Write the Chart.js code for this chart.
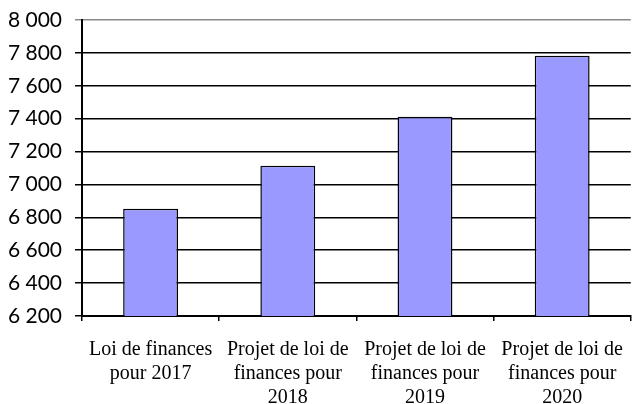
<!DOCTYPE html>
<html>
<head>
<meta charset="utf-8">
<script src="https://cdn.jsdelivr.net/npm/chart.js@4"></script>
<style>
  html, body { margin: 0; padding: 0; overflow: hidden; background: #fff; }
  #wrap { width: 640px; height: 404px; }
</style>
</head>
<body>
<div id="wrap"><canvas id="chart" width="640" height="404"></canvas></div>
<script>
// Budget evolution - vertical bar chart
const categories = [
    ['Loi de finances', 'pour 2017'],
    ['Projet de loi de', 'finances pour', '2018'],
    ['Projet de loi de', 'finances pour', '2019'],
    ['Projet de loi de', 'finances pour', '2020']
];
const values = [6852, 7114, 7411, 7783];
const yMin = 6200;
const yMax = 8000;
const yStep = 200;

function spaced(v) {
    return String(v).replace(/\B(?=(\d{3})+(?!\d))/g, ' ');
}

new Chart(document.getElementById('chart'), {
    type: 'bar',
    data: {
        labels: categories,
        datasets: [{
            data: values,
            backgroundColor: '#9999ff',
            borderColor: '#000000',
            borderWidth: 1.5,
            categoryPercentage: 1,
            barPercentage: 0.4
        }]
    },
    options: {
        responsive: false,
        animation: false,
        // negative bottom padding lets the last label line sit close to the edge, as in the source
        layout: { padding: { top: 20, right: 0, left: 0, bottom: -23 } },
        plugins: {
            legend: { display: false },
            tooltip: { enabled: false }
        },
        scales: {
            x: {
                grid: {
                    drawOnChartArea: false,
                    drawTicks: true,
                    tickLength: 5,
                    color: '#000',
                    lineWidth: 1.5
                },
                border: { display: true, color: '#000', width: 2 },
                ticks: {
                    color: '#000',
                    maxRotation: 0,
                    autoSkip: false,
                    padding: 17,
                    font: { family: '"Liberation Serif", "Times New Roman", serif', size: 20, lineHeight: 1.2 }
                }
            },
            y: {
                min: yMin,
                max: yMax,
                afterFit: function (scale) {
                    scale.width = 82;
                    scale.paddingTop = 0;
                    scale.paddingBottom = 0;
                },
                grid: {
                    color: function (ctx) {
                        return ctx.tick && ctx.tick.value === yMax ? '#8a8a8a' : '#000';
                    },
                    lineWidth: 1.5,
                    tickLength: 7
                },
                border: { display: true, color: '#000', width: 2 },
                ticks: {
                    stepSize: yStep,
                    color: '#000',
                    padding: 13,
                    font: { family: 'Lato, "Open Sans", sans-serif', size: 21 },
                    callback: function (v) { return spaced(v); }
                }
            }
        }
    }
});
</script>
</body>
</html>
